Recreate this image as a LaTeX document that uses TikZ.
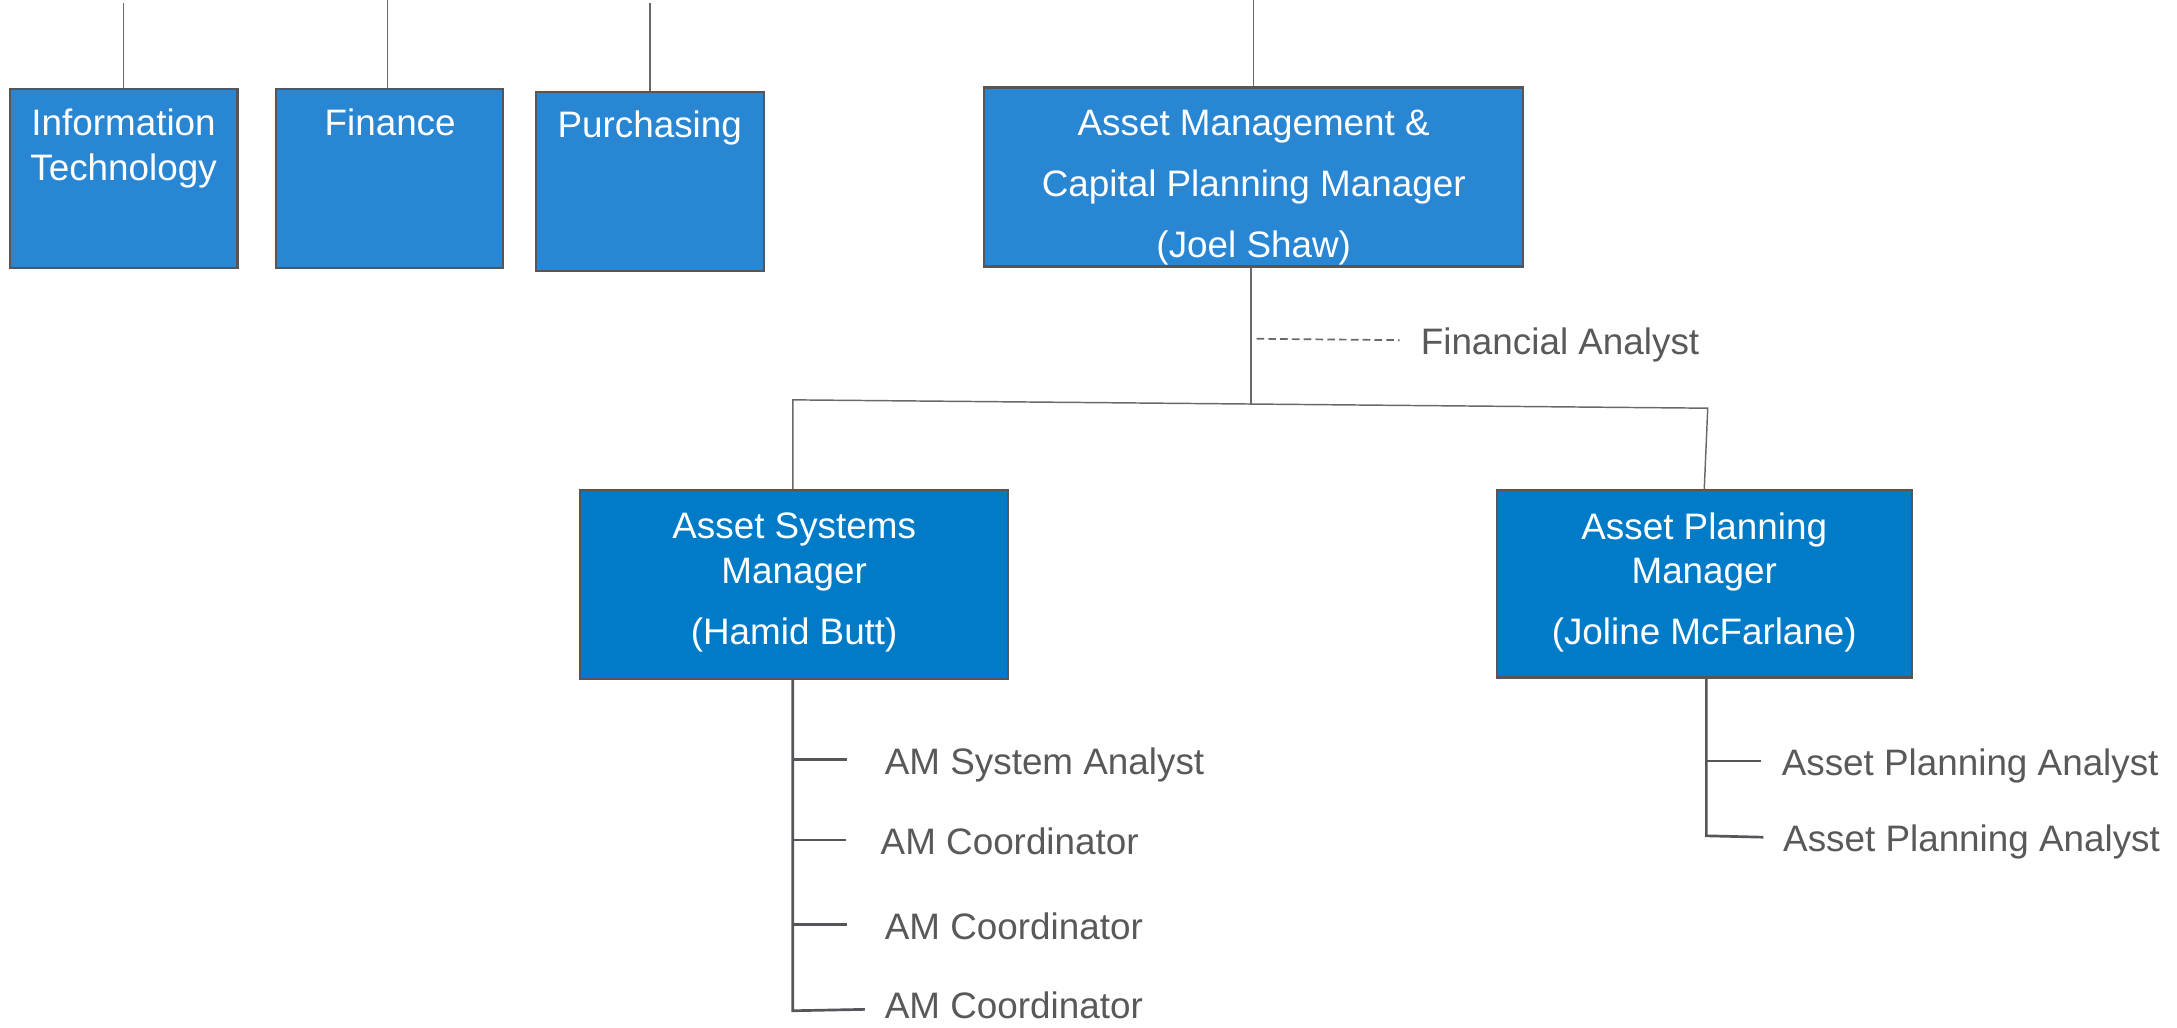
\documentclass[tikz,border=0pt]{standalone}
\usepackage{fontspec}
\setmainfont{Liberation Sans}
\usetikzlibrary{fit}
\definecolor{topblue}{RGB}{41,134,211}
\definecolor{lowblue}{RGB}{0,123,199}
\definecolor{edgegray}{RGB}{85,85,90}
\definecolor{txtgray}{RGB}{89,89,89}
\definecolor{linegray}{RGB}{105,105,105}
\begin{document}
\begin{tikzpicture}[x=0.02cm,y=-0.02cm,
  font=\fontsize{15.1pt}{18.2pt}\selectfont,
  boxa/.style={draw=edgegray,line width=0.9pt,fill=topblue,inner sep=0pt},
  boxb/.style={draw=edgegray,line width=0.9pt,fill=lowblue,inner sep=0pt},
  intext/.style={text=white,align=center,inner sep=0pt},
  lbl/.style={text=txtgray,anchor=west,inner sep=0pt,text height=12pt,text depth=0pt},
  conn/.style={draw=linegray,line width=0.6pt},
  thick conn/.style={draw=edgegray,line width=1.1pt},
  dashline/.style={draw=linegray,line width=0.7pt,dash pattern=on 0.11cm off 0.06cm}]
\useasboundingbox (0,0) rectangle (1568,740);

% top row boxes
\node[boxa,fit={(7,64) (171,193)}] (it) {};
\node[boxa,fit={(199,64) (362,193)}] (fin) {};
\node[boxa,fit={(386,66) (550,195)}] (pur) {};
\node[boxa,fit={(709,63) (1097,192)}] (am) {};

\node[intext] (itt) at (89,107) {Information\\Technology};
\node[intext] (fint) at (281,88) {Finance};
\node[intext] (purt) at (468,92) {Purchasing};
\node[intext,font=\fontsize{15.1pt}{25pt}\selectfont] (amt) at (903,135)
  {Asset Management \&\\Capital Planning Manager\\(Joel Shaw)};

% lines to the top edge
\coordinate (itu) at (89,2);
\coordinate (finu) at (279,0);
\coordinate (puru) at (468,2);
\coordinate (amu) at (903,0);
\draw[conn] (it.north) -- (itu);
\draw[conn] (fin.north -| finu) -- (finu);
\draw[conn] (pur.north) -- (puru);
\draw[conn] (am.north) -- (amu);

% second level boxes
\node[boxb,fit={(418,353) (726,489)}] (asm) {};
\node[boxb,fit={(1078,353) (1377,488)}] (apm) {};
\node[intext] (asmt) at (572,419.6) {Asset Systems\\Manager\\[0.24cm](Hamid Butt)};
\node[intext] (apmt) at (1227.5,419.6) {Asset Planning\\Manager\\[0.24cm](Joline McFarlane)};

% connectors from the manager
\coordinate (hl) at (571,288);
\coordinate (hr) at (1230,294);
\coordinate (jn) at (901,291);
\draw[conn] (am.south -| jn) -- (jn);
\draw[conn] (asm.north -| hl) -- (hl) -- (hr) -- (apm.north);

% financial analyst
\node[lbl] (fa) at (1023,245) {Financial Analyst};
\coordinate (d1) at (905,244);
\draw[dashline] (d1) -- ([xshift=-0.3cm]fa.west);

% asset systems staff
\node[lbl] (s1) at (637,547) {AM System Analyst};
\node[lbl] (s2) at (634,605) {AM Coordinator};
\node[lbl] (s3) at (637,666) {AM Coordinator};
\node[lbl] (s4) at (637,723) {AM Coordinator};
\coordinate (sv) at (571,728);
\coordinate (e4) at (623,727);
\draw[thick conn] (asm.south -| sv) -- (sv) -- (e4);
\draw[thick conn] (s1.west -| sv) -- ([xshift=-0.54cm]s1.west);
\draw[thick conn] (s2.west -| sv) -- ([xshift=-0.5cm]s2.west);
\draw[thick conn] (s3.west -| sv) -- ([xshift=-0.54cm]s3.west);

% asset planning staff
\node[lbl] (p1) at (1283,548) {Asset Planning Analyst};
\node[lbl] (p2) at (1284,603) {Asset Planning Analyst};
\coordinate (pv) at (1229,602);
\draw[thick conn] (apm.south -| pv) -- (pv) -- ([xshift=-0.28cm]p2.west);
\draw[thick conn] (p1.west -| pv) -- ([xshift=-0.3cm]p1.west);
\end{tikzpicture}
\end{document}
